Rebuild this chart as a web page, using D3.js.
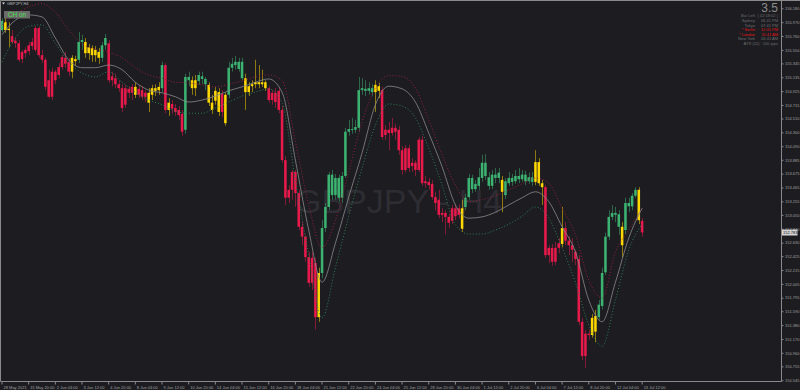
<!DOCTYPE html>
<html>
<head>
<meta charset="utf-8">
<script src="https://cdn.jsdelivr.net/npm/d3@7"></script>
<style>
  html, body { margin: 0; padding: 0; background: #1c1c21; }
  svg { display: block; }
  text { font-family: 'Liberation Sans', Arial, sans-serif; }
</style>
</head>
<body>
<div id="chart"></div>
<script>
'use strict';

// GBPJPY H4, 193 bars, 28 May 2021 -> 13 Jul 2021 12:00
const opens = [
    155.85, 155.97, 155.85, 155.76, 155.69, 155.65, 155.41, 155.50, 155.53, 155.61,
    155.55, 155.88, 155.47, 155.40, 155.09, 154.84, 155.22, 155.17, 155.29, 155.43,
    155.37, 155.22, 155.41, 155.40, 155.67, 155.67, 155.50, 155.58, 155.47, 155.52,
    155.43, 155.62, 155.65, 155.09, 155.12, 155.03, 154.97, 154.72, 154.96, 154.90,
    154.99, 154.87, 154.94, 154.84, 154.90, 154.87, 154.97, 154.94, 154.97, 155.32,
    154.64, 154.73, 154.67, 154.64, 154.58, 154.34, 155.09, 155.09, 154.97, 155.08,
    155.15, 155.11, 155.02, 154.75, 154.78, 154.91, 154.61, 154.44, 154.87, 155.28,
    155.32, 155.37, 155.12, 155.12, 154.91, 155.00, 155.03, 155.06, 155.03, 155.06,
    154.97, 154.79, 154.90, 154.93, 154.64, 153.88, 153.31, 153.43, 153.70, 153.38,
    152.87, 152.72, 152.41, 152.02, 152.32, 151.50, 152.17, 152.85, 153.17, 153.66,
    153.35, 153.61, 153.31, 153.64, 154.31, 154.35, 154.34, 154.37, 154.94, 154.96,
    154.93, 154.97, 154.91, 155.00, 154.94, 154.26, 154.34, 154.29, 154.37, 154.34,
    154.03, 153.73, 154.06, 153.79, 153.84, 153.73, 154.19, 153.53, 153.55, 153.52,
    153.32, 153.28, 153.05, 153.08, 153.02, 152.96, 153.15, 153.05, 153.15, 153.17,
    153.32, 153.61, 153.44, 153.49, 153.61, 153.84, 153.62, 153.49, 153.66, 153.61,
    153.58, 153.35, 153.53, 153.61, 153.56, 153.64, 153.59, 153.66, 153.56, 153.62,
    153.55, 153.85, 153.53, 153.47, 152.44, 152.55, 152.34, 152.55, 152.61, 152.85,
    152.66, 152.59, 152.49, 152.38, 151.43, 150.91, 151.25, 151.23, 151.28, 151.50,
    151.67, 152.18, 152.72, 153.02, 153.08, 153.06, 152.87, 152.82, 153.23, 153.18,
    153.34, 153.43, 152.96
];
const highs = [
    156.03, 156.08, 155.97, 155.85, 155.73, 155.70, 155.55, 155.59, 155.67, 155.73,
    155.91, 155.91, 155.55, 155.43, 155.25, 155.28, 155.25, 155.35, 155.47, 155.52,
    155.43, 155.47, 155.46, 155.82, 155.78, 155.73, 155.64, 155.62, 155.61, 155.58,
    155.67, 155.79, 155.70, 155.22, 155.19, 155.09, 155.03, 155.02, 155.00, 155.03,
    155.06, 155.02, 155.00, 154.94, 154.97, 155.02, 155.03, 155.06, 155.37, 155.35,
    154.82, 154.79, 154.73, 154.70, 154.64, 155.19, 155.22, 155.15, 155.17, 155.22,
    155.22, 155.14, 155.06, 154.87, 154.99, 154.97, 154.94, 154.90, 155.37, 155.43,
    155.46, 155.43, 155.43, 155.19, 155.06, 155.09, 155.40, 155.32, 155.25, 155.09,
    155.00, 154.94, 154.97, 154.97, 154.70, 153.94, 153.50, 153.73, 153.73, 153.43,
    152.94, 152.75, 152.49, 152.49, 152.40, 152.25, 152.97, 153.23, 153.70, 153.73,
    153.67, 153.66, 153.70, 154.37, 154.49, 154.52, 154.49, 155.14, 155.12, 155.09,
    155.06, 155.03, 155.09, 155.05, 154.99, 154.41, 154.46, 154.52, 154.43, 154.40,
    154.09, 154.11, 154.11, 153.91, 153.88, 154.23, 154.25, 153.64, 153.61, 153.58,
    153.40, 153.43, 153.15, 153.12, 153.06, 153.20, 153.21, 153.21, 153.28, 153.37,
    153.67, 153.66, 153.58, 153.76, 153.96, 153.97, 153.70, 153.73, 153.76, 153.76,
    153.64, 153.61, 153.70, 153.67, 153.73, 153.76, 153.73, 153.72, 153.69, 153.70,
    154.03, 153.91, 153.58, 153.50, 152.59, 152.61, 152.64, 152.70, 153.17, 152.94,
    152.73, 152.70, 152.52, 152.44, 151.49, 151.31, 151.31, 151.55, 151.61, 151.76,
    152.25, 152.78, 153.12, 153.20, 153.17, 153.12, 152.94, 153.31, 153.31, 153.38,
    153.47, 153.47, 153.00
];
const lows = [
    155.82, 155.81, 155.59, 155.64, 155.58, 155.37, 155.35, 155.43, 155.47, 155.55,
    155.52, 155.43, 155.35, 154.94, 154.81, 154.79, 155.03, 155.12, 155.25, 155.28,
    155.15, 155.12, 155.31, 155.35, 155.55, 155.43, 155.40, 155.37, 155.37, 155.34,
    155.37, 155.55, 155.05, 155.00, 154.97, 154.91, 154.61, 154.67, 154.82, 154.79,
    154.82, 154.82, 154.79, 154.76, 154.61, 154.79, 154.85, 154.87, 154.91, 154.59,
    154.55, 154.58, 154.55, 154.49, 154.25, 154.28, 155.00, 154.87, 154.85, 155.02,
    155.03, 154.94, 154.70, 154.58, 154.72, 154.55, 154.53, 154.40, 154.82, 155.22,
    155.25, 155.22, 155.09, 154.64, 154.85, 154.91, 154.97, 154.97, 154.99, 154.93,
    154.75, 154.72, 154.67, 154.59, 153.84, 153.20, 153.23, 153.28, 153.17, 152.82,
    152.59, 152.34, 151.96, 151.91, 151.31, 151.43, 152.09, 152.79, 153.12, 153.28,
    153.28, 153.25, 153.23, 153.61, 154.25, 154.28, 154.29, 154.31, 154.87, 154.85,
    154.87, 154.85, 154.61, 154.82, 154.19, 154.19, 154.03, 154.25, 154.19, 153.96,
    153.66, 153.69, 153.70, 153.70, 153.64, 153.70, 153.49, 153.46, 153.43, 153.28,
    153.12, 153.00, 152.94, 152.75, 152.85, 152.91, 152.97, 153.00, 152.79, 153.12,
    153.28, 153.38, 153.40, 153.43, 153.55, 153.58, 153.43, 153.44, 153.53, 153.53,
    153.09, 153.29, 153.49, 153.49, 153.52, 153.53, 153.55, 153.50, 153.52, 153.49,
    153.50, 153.49, 153.20, 152.40, 152.32, 152.28, 152.29, 152.47, 152.56, 152.59,
    152.44, 152.34, 152.29, 151.38, 150.85, 150.73, 151.16, 151.19, 151.12, 151.46,
    151.62, 152.14, 152.67, 152.97, 152.94, 152.75, 152.41, 152.76, 153.09, 153.12,
    153.31, 152.91, 152.72
];
const closes = [
    155.99, 155.85, 155.87, 155.67, 155.65, 155.40, 155.52, 155.55, 155.62, 155.67,
    155.88, 155.47, 155.40, 154.99, 154.84, 155.22, 155.09, 155.29, 155.44, 155.34,
    155.22, 155.43, 155.38, 155.67, 155.70, 155.50, 155.59, 155.47, 155.55, 155.43,
    155.62, 155.73, 155.09, 155.15, 155.03, 154.97, 154.67, 154.97, 154.90, 154.99,
    154.87, 154.96, 154.84, 154.90, 154.75, 154.97, 154.93, 154.99, 155.32, 154.64,
    154.75, 154.66, 154.61, 154.56, 154.31, 155.14, 155.14, 154.97, 155.09, 155.17,
    155.11, 155.03, 154.75, 154.64, 154.93, 154.61, 154.88, 154.87, 155.28, 155.34,
    155.37, 155.26, 155.37, 154.91, 155.00, 155.03, 155.06, 155.03, 155.06, 154.97,
    154.79, 154.90, 154.76, 154.64, 153.88, 153.31, 153.43, 153.70, 153.38, 152.87,
    152.72, 152.41, 152.02, 152.40, 151.50, 152.17, 152.85, 153.17, 153.66, 153.35,
    153.61, 153.31, 153.64, 154.31, 154.35, 154.34, 154.38, 154.94, 154.97, 154.93,
    154.97, 154.91, 155.02, 154.93, 154.23, 154.34, 154.29, 154.37, 154.31, 154.03,
    153.73, 154.06, 153.76, 153.84, 153.73, 154.19, 153.53, 153.56, 153.50, 153.32,
    153.23, 153.05, 153.08, 153.02, 152.93, 153.15, 153.03, 153.15, 152.84, 153.31,
    153.61, 153.44, 153.52, 153.62, 153.84, 153.64, 153.49, 153.66, 153.61, 153.69,
    153.40, 153.56, 153.61, 153.55, 153.64, 153.59, 153.66, 153.56, 153.62, 153.55,
    153.85, 153.53, 153.47, 152.44, 152.55, 152.34, 152.55, 152.62, 152.85, 152.66,
    152.59, 152.52, 152.38, 151.43, 150.91, 151.25, 151.23, 151.49, 151.52, 151.69,
    152.17, 152.72, 153.02, 153.08, 153.05, 152.87, 152.59, 153.23, 153.18, 153.34,
    153.43, 152.97, 152.783
];
// trend state of each bar: g = up, r = down, y = flat
const trend = (
    'gyy' + 'rrrrrrrrrrrrrrrrrr' + 'yygg' + 'yyyyygg' + 'rrrrrrrr' + 'yrrryyyy' +
    'gryrrrrggyyggg' + 'yyyyryggggg' + 'yyyyyyy' + 'rrrrrrrrrrrrrrr' + 'y' +
    'gggggggggggggggg' + 'yy' + 'rrrrrrrrrrrrrrrrrrrrrrrr' + 'y' + 'ggggggggggg' +
    'y' + 'ggggggggg' + 'yyy' + 'rrrrr' + 'y' + 'rrrrrrrr' + 'yy' + 'ggggggg' +
    'y' + 'gggg' + 'yr'
).split('');

// channel lines, one value every 4 bars
const lineStep = 4;
const midLine = [
    155.78, 156.00, 156.08, 156.05, 155.73, 155.40, 155.28, 155.28, 155.32, 155.25,
    155.06, 154.94, 154.90, 154.84, 154.76, 154.79, 154.85, 154.93, 154.99, 155.06,
    155.11, 154.91, 153.88, 152.82, 152.03, 152.62, 153.32, 153.99, 154.72, 155.00,
    154.96, 154.76, 154.29, 153.78, 153.20, 153.00, 153.02, 153.09, 153.20, 153.31,
    153.40, 153.25, 152.87, 152.49, 151.76, 151.43, 152.03, 152.70, 153.15
];
const upperBand = [
    155.93, 156.09, 156.20, 156.25, 156.12, 155.85, 155.64, 155.56, 155.52, 155.43,
    155.28, 155.17, 155.12, 155.06, 155.05, 155.02, 154.99, 155.03, 155.08, 155.14,
    155.17, 155.09, 154.16, 153.20, 152.55, 152.97, 153.70, 154.46, 154.97, 155.16,
    155.15, 154.97, 154.49, 153.96, 153.50, 153.25, 153.28, 153.34, 153.43, 153.52,
    153.61, 153.53, 153.15, 152.75, 152.06, 151.79, 152.49, 152.82, 153.15
];
const lowerBand = [
    155.37, 155.73, 155.91, 155.93, 155.65, 155.37, 155.20, 155.14, 155.22, 155.06,
    154.91, 154.79, 154.72, 154.62, 154.59, 154.59, 154.67, 154.76, 154.85, 154.91,
    154.96, 154.75, 153.58, 152.44, 151.49, 152.25, 153.03, 153.76, 154.41, 154.73,
    154.70, 154.52, 154.06, 153.50, 152.90, 152.76, 152.76, 152.82, 152.91, 153.03,
    153.17, 153.00, 152.55, 152.03, 151.38, 151.06, 151.76, 152.52, 152.91
];

const priceTicks = [
    156.180, 155.970, 155.760, 155.550, 155.345, 155.135, 154.925, 154.715, 154.510,
    154.300, 154.090, 153.885, 153.675, 153.465, 153.255, 153.050, 152.840, 152.630,
    152.425, 152.215, 152.005, 151.795, 151.590, 151.380, 151.170, 150.960, 150.755,
    150.545
];
const timeLabels = [
    '28 May 2021', '31 May 20:00', '2 Jun 04:00', '3 Jun 12:00', '4 Jun 20:00',
    '8 Jun 04:00', '9 Jun 12:00', '10 Jun 20:00', '14 Jun 04:00', '15 Jun 12:00',
    '16 Jun 20:00', '18 Jun 04:00', '21 Jun 12:00', '22 Jun 20:00', '24 Jun 04:00',
    '25 Jun 12:00', '28 Jun 20:00', '30 Jun 04:00', '1 Jul 12:00', '2 Jul 20:00',
    '6 Jul 04:00', '7 Jul 12:00', '8 Jul 20:00', '12 Jul 04:00', '13 Jul 12:00'
];
const labelStep = 8;

const sessionNames = ['Bar Left', 'Sydney', 'Tokyo', '* Berlin', '* London', 'New York'];
const sessionTimes = ['( 02:18:02 )', '06:41 PM', '07:41 PM', '12:41 PM', '11:41 AM', '06:41 AM'];
const sessionOpen = [false, false, false, true, true, false];
const atrText = 'ATR (20) : 100 pips';
const spreadText = '3.5';

const width = 800,
    height = 390,
    plotRight = 781.5,
    plotBottom = 381.5,
    bg = '#1c1c21',
    axisColor = '#8a8a8a',
    textColor = '#a0a0a0',
    tinyFont = 4,
    trendColors = {g: '#3cb371', r: '#e8194b', y: '#ffd700'};

const svg = d3.select('#chart').append('svg')
    .attr('width', width)
    .attr('height', height);

svg.append('rect')
    .attr('width', width)
    .attr('height', height)
    .attr('fill', bg);

const x = d3.scaleBand()
    .domain(d3.range(closes.length))
    .range([0.33, 0.33 + 3.334 * closes.length]);

const y = d3.scaleLinear()
    .domain([150.533, 156.306])
    .range([381, 0]);

const cx = i => x(i) + x.bandwidth() / 2;

// watermark
svg.append('text')
    .attr('x', 295)
    .attr('y', 213)
    .attr('font-size', 34)
    .attr('fill', '#2d2d33')
    .text('GBPJPY - H4');

// candles
const candles = svg.append('g')
    .selectAll('g')
    .data(d3.range(closes.length))
    .join('g');

candles.append('line')
    .attr('x1', i => Math.round(cx(i)) + 0.5)
    .attr('x2', i => Math.round(cx(i)) + 0.5)
    .attr('y1', i => y(highs[i]))
    .attr('y2', i => y(lows[i]))
    .attr('stroke', i => trendColors[trend[i]])
    .attr('stroke-opacity', 0.5)
    .attr('stroke-width', 1);

candles.append('rect')
    .attr('x', i => cx(i) - x.bandwidth() * 0.38)
    .attr('width', x.bandwidth() * 0.76)
    .attr('y', i => y(Math.max(opens[i], closes[i])))
    .attr('height', i => Math.max(1, Math.abs(y(opens[i]) - y(closes[i]))))
    .attr('fill', i => trendColors[trend[i]]);

// channel
const channel = d3.line()
    .x((d, i) => cx(i * lineStep))
    .y(d => y(d))
    .curve(d3.curveMonotoneX);

svg.append('path')
    .attr('d', channel(upperBand))
    .attr('fill', 'none')
    .attr('stroke', '#a3203f')
    .attr('stroke-width', 0.9)
    .attr('stroke-dasharray', '1,2');

svg.append('path')
    .attr('d', channel(lowerBand))
    .attr('fill', 'none')
    .attr('stroke', '#2f8a5a')
    .attr('stroke-width', 0.9)
    .attr('stroke-dasharray', '1,2');

svg.append('path')
    .attr('d', channel(midLine))
    .attr('fill', 'none')
    .attr('stroke', '#8c8c8c')
    .attr('stroke-width', 0.8);

// frame
svg.append('path')
    .attr('d', `M0.5,0.5H${width}M0.5,0.5V${plotBottom}H${plotRight}V0.5`)
    .attr('fill', 'none')
    .attr('stroke', axisColor)
    .attr('stroke-width', 1);

// price axis
const yAxis = d3.axisRight(y)
    .tickValues(priceTicks)
    .tickFormat(d3.format('.3f'))
    .tickSize(2)
    .tickPadding(1.5);

svg.append('g')
    .attr('transform', `translate(${plotRight}, 0)`)
    .call(yAxis)
    .call(g => g.select('.domain').remove())
    .call(g => g.selectAll('line').attr('stroke', axisColor))
    .call(g => g.selectAll('text')
        .attr('font-size', tinyFont)
        .attr('fill', textColor));

// time axis
const xAxis = d3.axisBottom(x)
    .tickValues(d3.range(0, closes.length, labelStep))
    .tickFormat((d, i) => timeLabels[i])
    .tickSize(3)
    .tickPadding(1.5);

svg.append('g')
    .attr('transform', `translate(0, ${plotBottom})`)
    .call(xAxis)
    .call(g => g.select('.domain').remove())
    .call(g => g.selectAll('line').attr('stroke', axisColor))
    .call(g => g.selectAll('text')
        .attr('font-size', tinyFont)
        .attr('fill', textColor)
        .attr('text-anchor', 'start')
        .attr('x', 1.5));

// current price tag
const last = closes[closes.length - 1];
svg.append('rect')
    .attr('x', plotRight + 0.5)
    .attr('y', y(last) - 3)
    .attr('width', 15.5)
    .attr('height', 6)
    .attr('fill', '#d4d4d4');
svg.append('text')
    .attr('x', plotRight + 1.5)
    .attr('y', y(last) + 1.5)
    .attr('font-size', tinyFont)
    .attr('fill', '#111')
    .text(d3.format('.3f')(last));

// symbol caption and button
svg.append('path')
    .attr('d', 'M2,2.5L5,2.5L3.5,4.5Z')
    .attr('fill', '#ddd');
svg.append('text')
    .attr('x', 7)
    .attr('y', 5)
    .attr('font-size', tinyFont)
    .attr('fill', '#bbb')
    .text('GBPJPY,H4');

svg.append('rect')
    .attr('x', 4)
    .attr('y', 11)
    .attr('width', 26)
    .attr('height', 7.5)
    .attr('fill', '#6a6a6a');
svg.append('text')
    .attr('x', 17)
    .attr('y', 17.2)
    .attr('text-anchor', 'middle')
    .attr('font-size', 6.5)
    .attr('fill', '#4be04b')
    .text('CH on');

// session panel
const panel = svg.append('g').attr('font-size', tinyFont);

panel.append('text')
    .attr('x', 778)
    .attr('y', 12)
    .attr('text-anchor', 'end')
    .attr('font-size', 12)
    .attr('fill', '#8c8c8c')
    .text(spreadText);

sessionNames.forEach((name, i) => {
    let rowY = 17.4 + i * 4.6,
        color = sessionOpen[i] ? '#e01818' : '#6e6e6e';
    panel.append('text')
        .attr('x', 755)
        .attr('y', rowY)
        .attr('text-anchor', 'end')
        .attr('fill', color)
        .text(name);
    panel.append('text')
        .attr('x', 778)
        .attr('y', rowY)
        .attr('text-anchor', 'end')
        .attr('fill', color)
        .text(sessionTimes[i]);
});

panel.append('text')
    .attr('x', 778)
    .attr('y', 17.4 + 6 * 4.6)
    .attr('text-anchor', 'end')
    .attr('fill', '#6e6e6e')
    .text(atrText);
</script>
</body>
</html>
